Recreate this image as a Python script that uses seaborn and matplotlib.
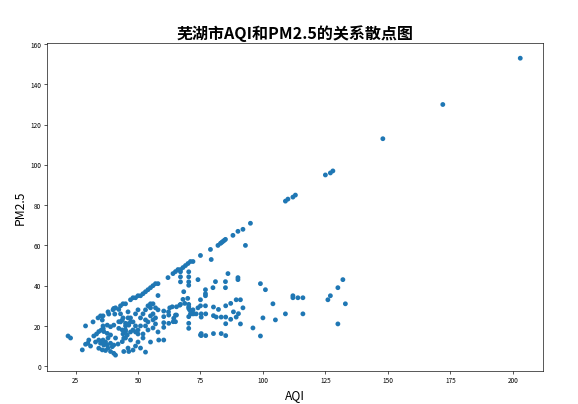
import matplotlib
matplotlib.use("Agg")
import matplotlib.pyplot as plt
import seaborn as sns
import pandas as pd

plt.rcParams['font.family'] = ['Noto Sans CJK SC', 'DejaVu Sans']
plt.rcParams['axes.unicode_minus'] = False

# Points along the upper band (PM2.5 as primary pollutant)
aqi_upper = [22, 23, 29, 32, 34, 35, 36, 38, 40, 41, 43, 44, 45, 47, 48, 49, 50, 51, 52, 53,
             54, 55, 56, 57, 58, 62, 64, 65, 66, 67, 68, 69, 70, 71, 72, 75, 79, 82, 83, 83.5,
             84, 84.5, 85, 88, 90, 92, 95, 109, 110, 112, 113, 125, 127, 128, 148, 172, 203]
pm_upper = [15, 14, 20, 22, 24, 25, 25, 27, 28, 29, 30, 31, 31, 33, 34, 34, 35, 35, 36, 37,
            38, 39, 40, 41, 41, 44, 46, 47, 48, 48, 49, 50, 51, 52, 52, 55, 58, 60, 61, 61.5,
            62, 62.5, 63, 65, 67, 68, 71, 82, 83, 84, 85, 95, 96, 97, 113, 130, 153]

# Points below the band (other primary pollutants)
aqi_lower = [99, 101, 91, 92, 91, 100, 96, 99, 104, 105, 109, 112, 112, 114, 116, 116, 126, 127,
             130, 132, 133, 130, 93,
             86, 74, 81, 85, 90, 90, 80, 85, 77, 77, 77, 75, 74, 75, 77, 72, 71, 71.7, 72.3, 73.3,
             75.3, 75.3, 77.1, 80.2, 82.2, 85.1, 87.1, 89.3, 88.2, 90.2, 80.2, 81.3, 83.3, 85.1,
             87.1, 89.3, 85.1, 75.3, 75.3, 77.1, 80.2, 83.3, 85.1, 79.3,
             70.3, 70.3, 70.3, 70.3, 67, 67, 67, 68.3, 68, 69.9, 67, 70.3, 70.3, 71.7, 70.3, 70.7,
             68.7, 66.7, 65.4, 63.7, 62.7, 60.3, 60.3, 60.3, 60.3, 62.3, 62.3, 65, 64.3, 70.3,
             70.3, 70.3, 65.4, 64.1, 65, 62.2, 60.3, 58.3, 58, 75,
             54, 55, 56, 57, 58, 55, 53, 52, 55, 56, 57, 54, 53, 56, 58, 52, 50, 49, 48, 49, 50,
             47, 46, 51, 52, 50, 49, 47, 45, 46, 48, 51, 55, 53, 44, 45, 43, 45, 47, 48, 49, 50,
             46, 47, 44, 43, 46, 51, 53, 56, 54, 57,
             27.7, 29, 29.9, 30.3, 32.3, 33.4, 34.3, 35.3, 36.1, 35.7, 38.3, 40.7, 42.3, 37.7, 39,
             40.3, 36.3, 37.7, 39, 34.3, 35, 35.7, 36.3, 37.7, 39, 39.7, 40.3, 34.3, 35.7, 37, 39,
             41, 42.3, 43.7, 45, 45.7, 44.3, 43.7, 44.3, 46.3, 40.3, 42.3, 43.7, 45, 46.3, 40.3,
             36, 38, 33, 31, 38, 42, 41, 37, 36]
pm_lower = [41, 38, 33, 29, 21, 24, 19, 15, 31, 23, 26, 35, 34, 34, 34, 26, 33, 35,
            39, 43, 31, 21, 60,
            46, 43, 42, 42, 44, 43, 39, 39, 38, 36, 35, 33, 29, 30, 30, 28, 26, 26, 26, 26,
            26, 24.4, 26, 29.4, 28.2, 30, 31.2, 33, 27, 26.1, 25.1, 24.4, 24.4, 24.4,
            23.3, 24.4, 21.1, 16.2, 15.2, 15.2, 16.2, 16.2, 15.2, 53,
            46.9, 44.4, 41.9, 40.2, 46.9, 44.4, 41.9, 37, 33.2, 33.7, 30.7, 30.7, 28.7, 27, 29.5, 27.9,
            31.2, 30.3, 29.5, 29.5, 29, 27.4, 24.6, 21.6, 19.3, 25.4, 21.3, 25.4, 23.8, 24.6,
            21.3, 18.8, 25.4, 22.1, 22.1, 27, 13, 13, 35.1, 15.5,
            30, 29, 31, 29, 28, 31, 28, 26, 25, 23, 21, 22, 20, 19, 17, 16, 18, 20, 22, 26, 28,
            24, 27, 24, 14, 12, 10, 13, 14, 9, 8, 9, 12, 7, 16, 20, 22, 18, 17, 18, 17, 16,
            21, 22, 24, 26, 24, 20, 23, 26, 18, 24,
            8.1, 10.9, 11.4, 13, 15, 16, 17.2, 18, 18.7, 22.9, 25.9, 25.9, 28.2, 20.4, 19.6,
            20.4, 17.2, 16.3, 15.5, 13, 11.4, 12.2, 10.5, 10.5, 11.4, 9.7, 10.5, 8.9, 8.1, 7.8, 7.3,
            5.5, 18.8, 18, 17.2, 15.5, 13.9, 12.2, 7.3, 7.3, 6.4, 22.1, 22.9, 21.3, 20.4, 28.7,
            13, 14, 12, 10, 9, 11, 14, 12, 20]

df = pd.DataFrame({
    "AQI": aqi_upper + aqi_lower,
    "PM2.5": pm_upper + pm_lower,
})

fig = plt.figure(figsize=(10, 7), dpi=57.8)
ax = fig.add_axes([0.081, 0.081, 0.858, 0.811])
sns.scatterplot(data=df, x="AQI", y="PM2.5", ax=ax, s=36, color="#1f77b4",
                linewidth=0, edgecolor="none")
ax.set_title("芜湖市AQI和PM2.5的关系散点图", fontsize=20, fontweight="bold")
ax.set_xlabel("AQI", fontsize=15)
ax.set_ylabel("PM2.5", fontsize=15)
ax.set_xticks([25, 50, 75, 100, 125, 150, 175, 200])
ax.set_yticks([0, 20, 40, 60, 80, 100, 120, 140, 160])
ax.tick_params(labelsize=8)
ax.set_xlim(13.5, 212)
ax.set_ylim(-2.5, 160.5)
fig.savefig("out.png", dpi=57.8)
